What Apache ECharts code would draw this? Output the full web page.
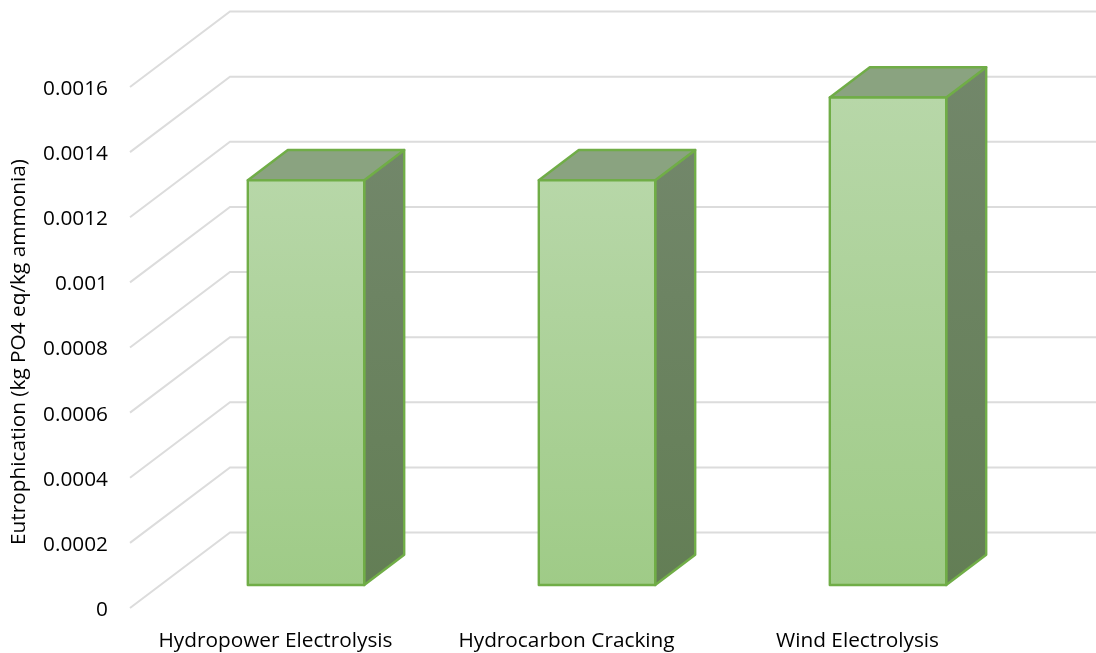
<!DOCTYPE html>
<html>
<head>
<meta charset="utf-8">
<style>html,body{margin:0;padding:0;background:#fff}#chart{width:1096px;height:653px}</style>
<script src="https://cdn.jsdelivr.net/npm/echarts@6/dist/echarts.min.js"></script>
</head>
<body>
<div id="chart"></div>
<script>
// Eutrophication per kg of ammonia by production route
const categories = ['Hydropower Electrolysis', 'Hydrocarbon Cracking', 'Wind Electrolysis'];
const eutrophication = [0.001243, 0.001243, 0.001497];
const tickValues = [0, 0.0002, 0.0004, 0.0006, 0.0008, 0.001, 0.0012, 0.0014, 0.0016];
const axisTitle = 'Eutrophication (kg PO4 eq/kg ammonia)';

// Oblique projection of the floor: full depth of the plot, and where a bar sits in it
const DEPTH_X = 100, DEPTH_Y = -75.5;
const BAR_NEAR = 0.305, BAR_FAR = 0.705, BAR_WIDTH = 0.4;
const FONT = '"Open Sans", sans-serif';
const vGrad = (a, b) => ({type: 'linear', x: 0, y: 0, x2: 0, y2: 1, colorStops: [{offset: 0, color: a}, {offset: 1, color: b}]});

function renderWallLine(params, api) {
  const cs = params.coordSys;
  const y = api.coord([0, api.value(0)])[1];
  const style = {fill: 'none', stroke: '#dcdcdc', lineWidth: 2};
  return {
    type: 'polyline',
    silent: true,
    shape: {points: [[cs.x, y], [cs.x + DEPTH_X, y + DEPTH_Y], [cs.x + DEPTH_X + cs.width, y + DEPTH_Y]]},
    style
  };
}

function renderBar(params, api) {
  const idx = api.value(0);
  const top = api.coord([idx, api.value(1)]);
  const base = api.coord([idx, 0]);
  const w = api.size([1, 0])[0] * BAR_WIDTH;
  const nx = DEPTH_X * BAR_NEAR, ny = DEPTH_Y * BAR_NEAR;
  const dx = DEPTH_X * (BAR_FAR - BAR_NEAR), dy = DEPTH_Y * (BAR_FAR - BAR_NEAR);
  const l = top[0] + nx - w / 2, r = l + w, t = top[1] + ny, b = base[1] + ny;
  const edge = {stroke: '#70ad47', lineWidth: 2.4, lineJoin: 'round'};
  return {
    type: 'group',
    children: [
      {type: 'polygon', shape: {points: [[r, t], [r + dx, t + dy], [r + dx, b + dy], [r, b]]},
        style: {fill: vGrad('#72876a', '#637e55'), ...edge}},
      {type: 'polygon', shape: {points: [[l, t], [l + dx, t + dy], [r + dx, t + dy], [r, t]]},
        style: {fill: '#8aa380', ...edge}},
      {type: 'rect', shape: {x: l, y: t, width: w, height: b - t},
        style: {fill: vGrad('#b7d7a8', '#9fcb87'), ...edge}}
    ]
  };
}

const chart = echarts.init(document.getElementById('chart'), null, {renderer: 'canvas'});
chart.setOption({
  animation: false,
  backgroundColor: '#ffffff',
  grid: {left: 130, top: 87, width: 873, height: 521, outerBoundsMode: 'none'},
  xAxis: {
    type: 'category',
    data: categories,
    axisLine: {show: false},
    axisTick: {show: false},
    axisLabel: {color: '#000', fontFamily: FONT, fontSize: 20.8, margin: 23, interval: 0, hideOverlap: false}
  },
  yAxis: {
    type: 'value',
    min: 0,
    max: 0.0016,
    interval: 0.0002,
    splitLine: {show: false},
    axisLine: {show: false},
    axisTick: {show: false},
    axisLabel: {
      margin: 22,
      formatter: v => '{tick|' + (+v.toFixed(4)) + '}',
      rich: {tick: {color: '#000', fontFamily: FONT, fontSize: 20.8, padding: [4, 0, 0, 0]}}
    },
    name: axisTitle,
    nameLocation: 'middle',
    nameGap: 100,
    nameTextStyle: {color: '#000', fontFamily: FONT, fontSize: 20.8, padding: [0, 9, 0, 0]}
  },
  series: [
    {type: 'custom', renderItem: renderWallLine, data: tickValues.map(v => [v]), encode: {y: 0}, clip: false, silent: true, z: 1},
    {type: 'custom', renderItem: renderBar, data: eutrophication.map((v, i) => [i, v]), encode: {x: 0, y: 1}, clip: false, z: 2}
  ]
});
</script>
</body>
</html>
